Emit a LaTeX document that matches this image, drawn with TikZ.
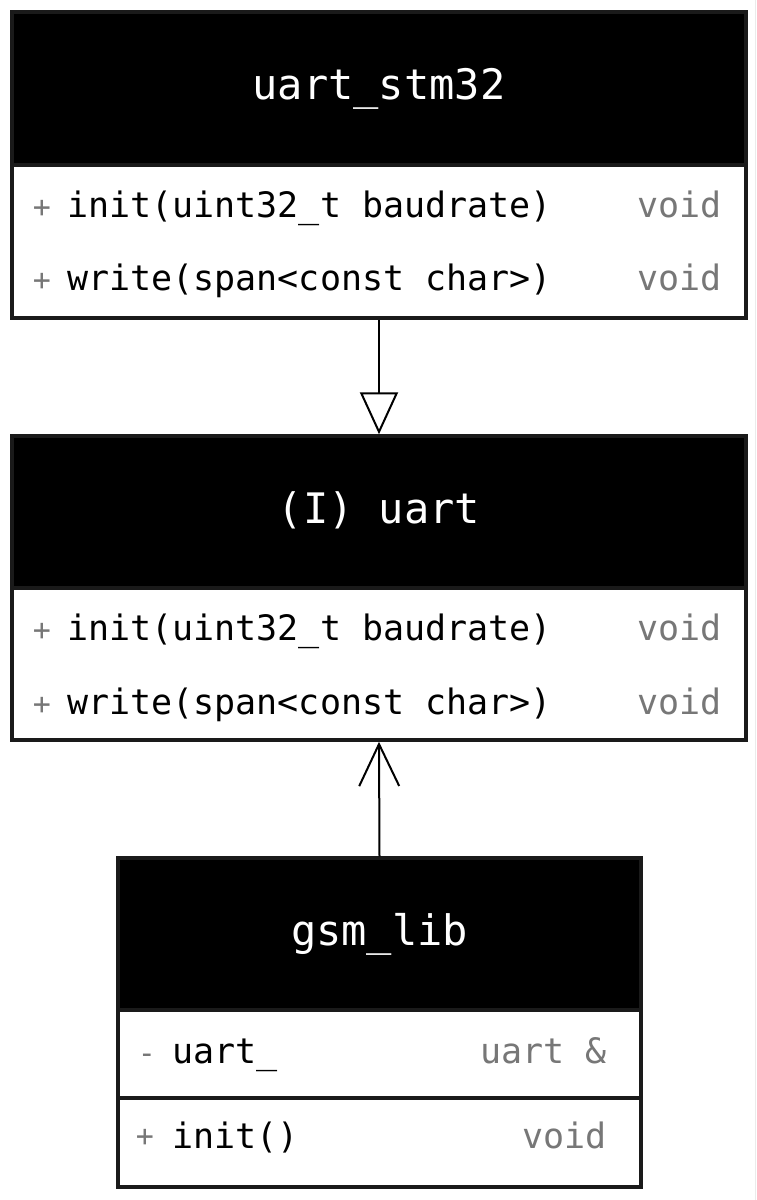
\documentclass[tikz,border=0pt]{standalone}
\usepackage{fontspec}
\setmonofont{DejaVu Sans Mono}
\usetikzlibrary{arrows.meta}
\definecolor{bord}{HTML}{1A1A1A}
\definecolor{typ}{HTML}{777777}
\begin{document}
\begin{tikzpicture}[x=1pt,y=-1pt,
  classbox/.style={draw=bord, line width=3.5pt, fill=white, inner sep=0pt},
  headbox/.style={draw=bord, line width=3.5pt, fill=black, inner sep=0pt},
  title/.style={text=white, font=\ttfamily\fontsize{42}{48}\selectfont, inner sep=0pt},
  member/.style={text=black, font=\ttfamily\fontsize{35}{40}\selectfont, inner sep=0pt, anchor=base west},
  vis/.style={text=typ, font=\ttfamily\fontsize{30}{36}\selectfont, inner sep=0pt, anchor=base},
  typ/.style={text=typ, font=\ttfamily\fontsize{35}{40}\selectfont, inner sep=0pt, anchor=base east},
  conn/.style={draw=black, line width=2pt}]
\useasboundingbox (0,0) rectangle (757,1200);
\fill[white] (0,0) rectangle (757,1200);
\draw[line width=1pt, draw=black!8] (755.5,0) -- (755.5,1200);

% uart_stm32
\node[classbox, minimum width=734pt, minimum height=306pt] (s) at (379,165) {};
\node[headbox, minimum width=734pt, minimum height=153pt] (sh) at (379,88.5) {};
\node[title] (st) at (379,88.5) {uart\_stm32};
\node[vis] (sv1) at (42,217) {+};
\node[member] (sm1) at (67,217) {init(uint32\_t baudrate)};
\node[typ] (sy1) at (722,217) {void};
\node[vis] (sv2) at (42,290) {+};
\node[member] (sm2) at (67,290) {write(span<const char>)};
\node[typ] (sy2) at (722,290) {void};

% uart
\node[classbox, minimum width=734pt, minimum height=304pt] (u) at (379,588) {};
\node[headbox, minimum width=734pt, minimum height=152pt] (uh) at (379,512) {};
\node[title] (ut) at (379,510) {(I) uart};
\node[vis] (uv1) at (42,640) {+};
\node[member] (um1) at (67,640) {init(uint32\_t baudrate)};
\node[typ] (uy1) at (722,640) {void};
\node[vis] (uv2) at (42,714) {+};
\node[member] (um2) at (67,714) {write(span<const char>)};
\node[typ] (uy2) at (722,714) {void};

% gsm_lib
\node[classbox, minimum width=523pt, minimum height=329pt] (g) at (379.5,1022.5) {};
\node[headbox, minimum width=523pt, minimum height=152pt] (gh) at (379.5,934) {};
\node[title] (gt) at (379.5,934) {gsm\_lib};
\coordinate (gsl) at (118,1098);
\coordinate (gsr) at (641,1098);
\draw[draw=bord, line width=4pt] (gsl) -- (gsr);
\node[vis] (gv1) at (147,1063) {-};
\node[member] (gm1) at (172,1063) {uart\_};
\node[typ] (gy1) at (607,1063) {uart \&};
\node[vis] (gv2) at (145,1146) {+};
\node[member] (gm2) at (172,1148) {init()};
\node[typ] (gy2) at (607,1148) {void};

% connectors
\draw[conn, -{Triangle[open, length=42pt, width=38pt, line width=2pt]}] (s.south) -- (u.north);
\draw[conn, -{Straight Barb[length=42pt, width=40pt, line width=2pt]}] (g.north) -- (u.south);
\end{tikzpicture}
\end{document}
